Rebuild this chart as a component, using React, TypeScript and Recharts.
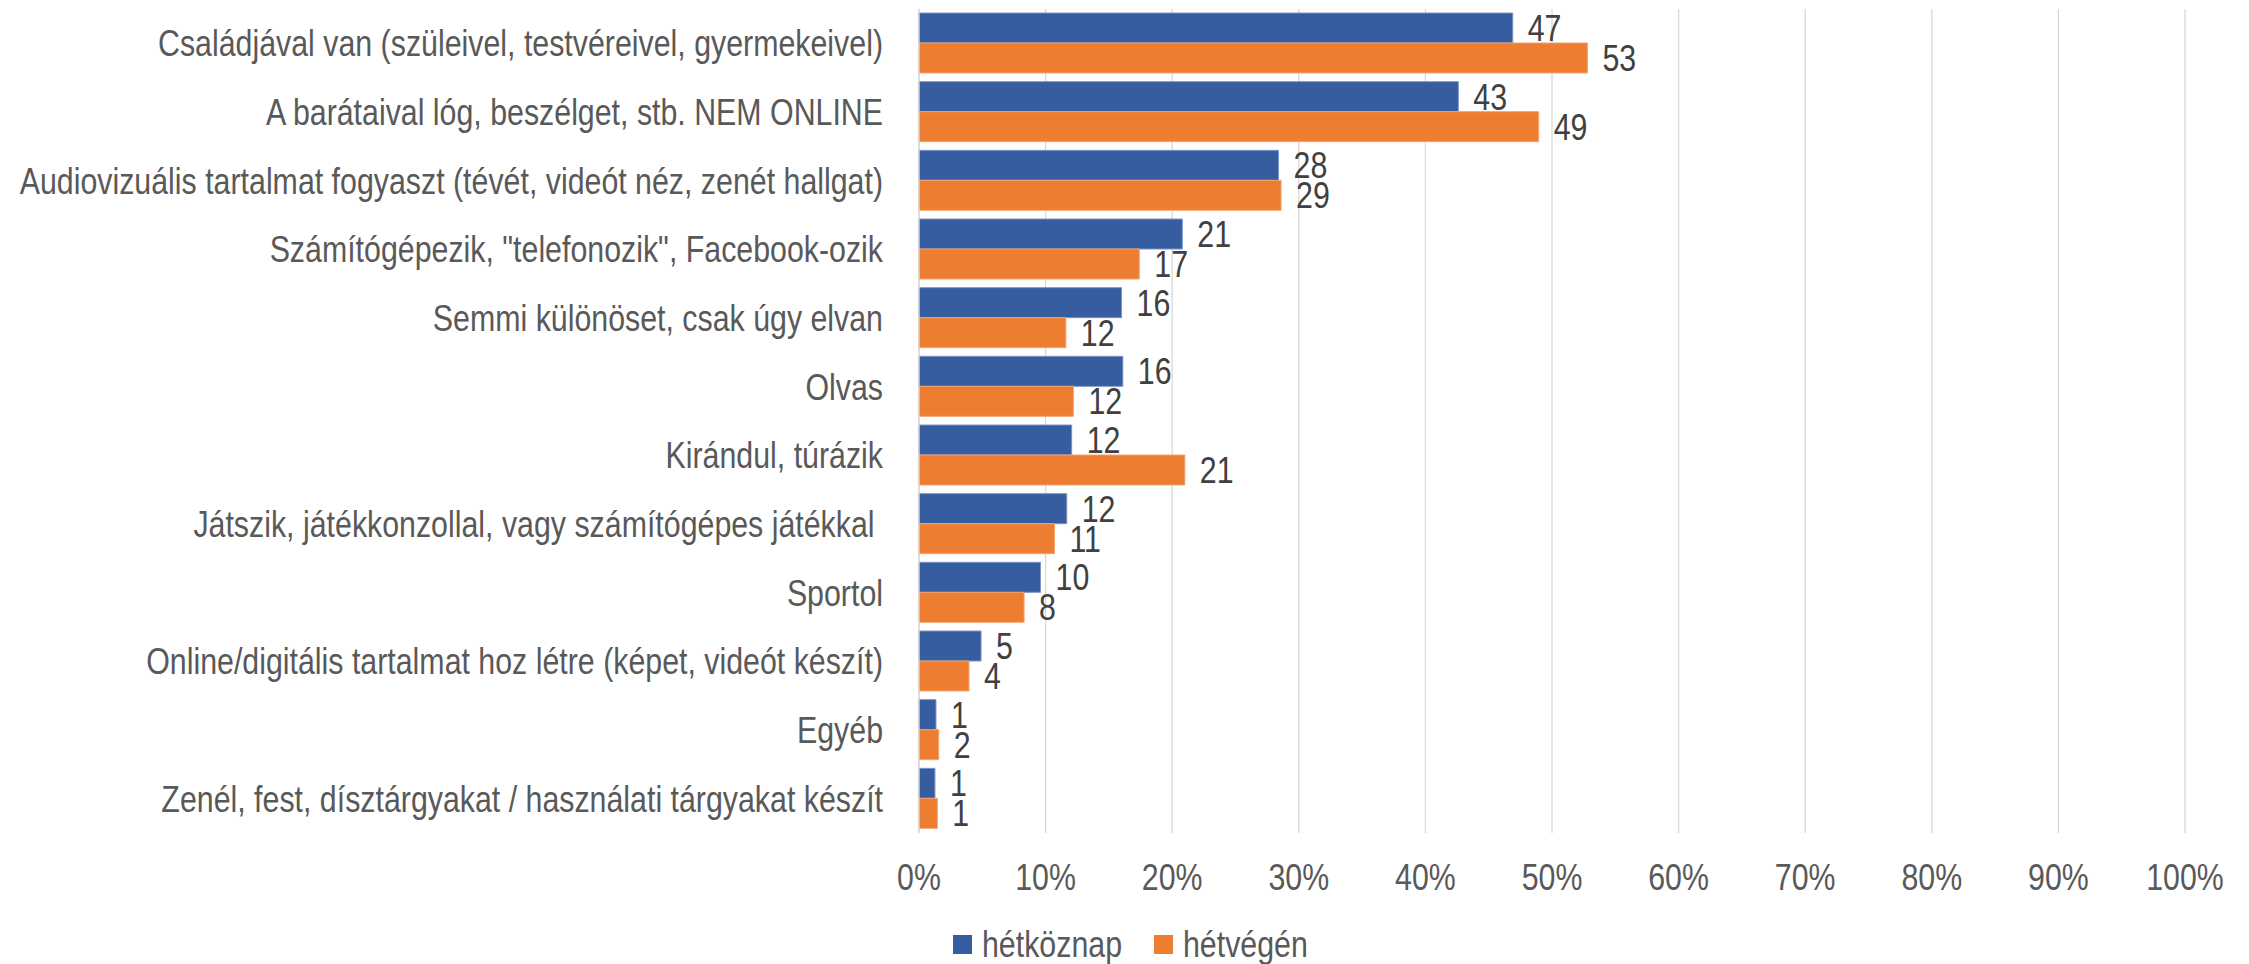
import React from "react";
import { BarChart, Bar, XAxis, YAxis, CartesianGrid, LabelList, Legend } from "recharts";

const categories = [
  "Családjával van (szüleivel, testvéreivel, gyermekeivel)",
  "A barátaival lóg, beszélget, stb. NEM ONLINE",
  "Audiovizuális tartalmat fogyaszt (tévét, videót néz, zenét hallgat)",
  "Számítógépezik, \"telefonozik\", Facebook-ozik",
  "Semmi különöset, csak úgy elvan",
  "Olvas",
  "Kirándul, túrázik",
  "Játszik, játékkonzollal, vagy számítógépes játékkal\u00A0",
  "Sportol",
  "Online/digitális tartalmat hoz létre (képet, videót készít)",
  "Egyéb",
  "Zenél, fest, dísztárgyakat / használati tárgyakat készít",
];
const weekday = [46.9, 42.6, 28.4, 20.8, 16.0, 16.1, 12.06, 11.67, 9.6, 4.9, 1.34, 1.26];
const weekend = [52.8, 48.95, 28.6, 17.4, 11.6, 12.2, 21.0, 10.7, 8.3, 3.95, 1.56, 1.45];
const xTicks = [0, 10, 20, 30, 40, 50, 60, 70, 80, 90, 100];
const seriesNames = ["hétköznap", "hétvégén"];

const data = categories.map((name, i) => ({ name, weekday: weekday[i], weekend: weekend[i] }));

const FONT = "'Liberation Sans', Arial, sans-serif";
const SX = 0.82;
const FS = 37;
const BLUE = "#355DA0";
const ORANGE = "#ED7D31";
const TEXT = "#595959";
const LABEL = "#404040";

const YTick = (props: any) => {
  const { x, y, payload } = props;
  return (
    <text
      transform={`translate(${x},${y}) scale(${SX},1)`}
      x={0}
      y={0}
      dy="0.355em"
      textAnchor="end"
      fontFamily={FONT}
      fontSize={FS}
      fill={TEXT}
      style={{ whiteSpace: "pre" }}
    >
      {payload.value}
    </text>
  );
};

const XTick = (props: any) => {
  const { x, y, payload } = props;
  return (
    <text
      transform={`translate(${x},${y}) scale(${SX},1)`}
      x={0}
      y={0}
      dy="0.71em"
      textAnchor="middle"
      fontFamily={FONT}
      fontSize={FS}
      fill={TEXT}
    >
      {`${payload.value}%`}
    </text>
  );
};

const renderLabel = (props: any) => {
  const { x, y, width, height, value } = props;
  const lx = Number(x) + Number(width) + 15;
  const ly = Number(y) + Number(height) / 2;
  return (
    <text
      transform={`translate(${lx},${ly}) scale(${SX},1)`}
      x={0}
      y={0}
      dy="0.355em"
      textAnchor="start"
      fontFamily={FONT}
      fontSize={FS}
      fill={LABEL}
    >
      {Math.round(Number(value))}
    </text>
  );
};

const legendWidths = [137, 123];

const LegendContent = () => (
  <div style={{ display: "flex", alignItems: "center", height: 40, fontFamily: FONT, fontSize: FS, color: TEXT }}>
    {[BLUE, ORANGE].map((c, i) => (
      <div key={i} style={{ display: "flex", alignItems: "center", marginRight: 35 }}>
        <div style={{ width: 19, height: 19, background: c, marginRight: 10 }} />
        <div style={{ width: legendWidths[i], height: 40, overflow: "visible", whiteSpace: "nowrap" }}>
          <span
            style={{
              display: "inline-block",
              lineHeight: "40px",
              transform: `scaleX(${SX})`,
              transformOrigin: "left center",
            }}
          >
            {seriesNames[i]}
          </span>
        </div>
      </div>
    ))}
  </div>
);

export default function App() {
  return (
    <BarChart
      width={2233}
      height={956}
      data={data}
      layout="vertical"
      margin={{ top: 1, right: 56, bottom: 0, left: 0 }}
      barGap={0}
    >
      <CartesianGrid horizontal={false} stroke="#d9d9d9" strokeWidth={1.3} />
      <XAxis
        type="number"
        domain={[0, 100]}
        ticks={xTicks}
        axisLine={false}
        tickLine={false}
        tickSize={0}
        tickMargin={31}
        height={91}
        interval={0}
        tick={<XTick />}
      />
      <YAxis
        type="category"
        dataKey="name"
        width={911}
        axisLine={{ stroke: "#d9d9d9", strokeWidth: 1.3 }}
        tickLine={false}
        tickSize={0}
        tickMargin={36}
        interval={0}
        tick={<YTick />}
      />
      <Legend
        verticalAlign="bottom"
        content={<LegendContent />}
        wrapperStyle={{ left: 945, width: 420, height: 40, bottom: 0 }}
      />
      <Bar dataKey="weekday" name={seriesNames[0]} fill={BLUE} stroke="#7A95C4" strokeWidth={1} barSize={30} isAnimationActive={false}>
        <LabelList dataKey="weekday" content={renderLabel} />
      </Bar>
      <Bar dataKey="weekend" name={seriesNames[1]} fill={ORANGE} stroke="#F4A470" strokeWidth={1} barSize={30} isAnimationActive={false}>
        <LabelList dataKey="weekend" content={renderLabel} />
      </Bar>
    </BarChart>
  );
}
